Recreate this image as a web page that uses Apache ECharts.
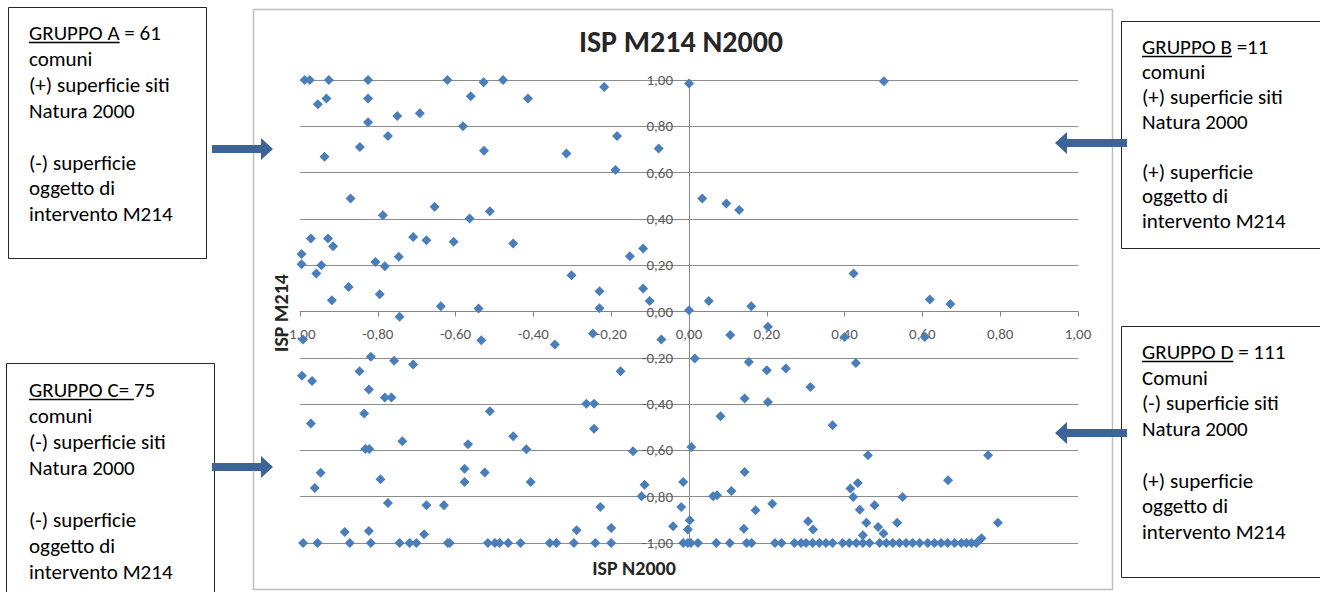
<!DOCTYPE html>
<html>
<head>
<meta charset="utf-8">
<script src="https://cdn.jsdelivr.net/npm/echarts@6/dist/echarts.min.js"></script>
<style>
html,body{margin:0;padding:0;background:#fff;}
#chart{width:1320px;height:592px;}
</style>
</head>
<body>
<div id="chart"></div>
<script>
// ---- Data (ISP N2000 = x, ISP M214 = y) ----
const groupA_N2000 = [-0.988,-0.975,-0.926,-0.825,-0.621,-0.528,-0.478,-0.218,-0.954,-0.932,-0.825,-0.561,-0.414,-0.75,-0.692,-0.825,-0.581,-0.774,-0.846,-0.937,-0.527,-0.315,-0.185,-0.189,-0.078,-0.87,-0.787,-0.654,-0.564,-0.512,-0.972,-0.928,-0.915,-0.709,-0.675,-0.605,-0.452,-0.996,-0.996,-0.945,-0.958,-0.806,-0.782,-0.746,-0.152,-0.118,-0.302,-0.875,-0.795,-0.918,-0.23,-0.118,-0.101,-0.638,-0.541,-0.23];
const groupA_M214  = [1.00,1.00,1.00,1.00,1.00,0.99,1.00,0.97,0.895,0.92,0.92,0.93,0.92,0.845,0.856,0.817,0.80,0.758,0.711,0.668,0.694,0.683,0.758,0.611,0.704,0.488,0.416,0.452,0.402,0.433,0.315,0.315,0.282,0.322,0.308,0.301,0.294,0.248,0.204,0.20,0.164,0.214,0.196,0.236,0.239,0.272,0.157,0.106,0.075,0.049,0.088,0.099,0.045,0.023,0.013,0.014];

const groupB_N2000 = [0.0,0.501,0.034,0.096,0.129,0.423,0.051,0.16,0.619,0.672,0.0];
const groupB_M214  = [0.985,0.995,0.488,0.467,0.438,0.164,0.045,0.023,0.052,0.032,0.005];

const groupC_N2000 = [-0.744,-0.992,-0.534,-0.345,-0.247,-0.071,-0.818,-0.758,-0.709,-0.847,-0.176,-0.995,-0.969,-0.823,-0.782,-0.765,-0.512,-0.264,-0.244,-0.835,-0.972,-0.244,-0.452,-0.418,-0.737,-0.568,-0.832,-0.822,-0.144,-0.947,-0.962,-0.793,-0.577,-0.577,-0.525,-0.407,-0.114,-0.122,-0.774,-0.675,-0.63,-0.228,-0.885,-0.823,-0.681,-0.289,-0.20,-0.041,-0.015,-0.02,-0.003,
  -0.992,-0.955,-0.872,-0.818,-0.744,-0.718,-0.701,-0.62,-0.615,-0.517,-0.499,-0.487,-0.465,-0.433,-0.358,-0.341,-0.296,-0.241,-0.20,-0.015,-0.003];
const groupC_M214  = [-0.023,-0.121,-0.124,-0.143,-0.095,-0.121,-0.196,-0.213,-0.229,-0.258,-0.258,-0.277,-0.30,-0.337,-0.372,-0.372,-0.431,-0.399,-0.399,-0.441,-0.484,-0.506,-0.539,-0.595,-0.561,-0.573,-0.594,-0.594,-0.604,-0.697,-0.762,-0.725,-0.679,-0.736,-0.696,-0.736,-0.748,-0.798,-0.827,-0.837,-0.837,-0.844,-0.952,-0.948,-0.962,-0.945,-0.935,-0.928,-0.736,-0.844,-0.942,
  -1,-1,-1,-1,-1,-1,-1,-1,-1,-1,-1,-1,-1,-1,-1,-1,-1,-1,-1,-1,-1];

const groupD_N2000 = [0.203,0.106,0.40,0.606,0.015,0.154,0.20,0.249,0.429,0.312,0.143,0.203,0.081,0.369,0.006,0.46,0.769,0.143,0.666,0.434,0.415,0.062,0.072,0.109,0.422,0.549,0.171,0.214,0.439,0.477,0.002,0.141,0.306,0.319,0.456,0.486,0.535,0.794,0.447,0.50,0.752,
  0.005,0.023,0.07,0.105,0.148,0.161,0.221,0.238,0.271,0.288,0.301,0.318,0.335,0.352,0.369,0.395,0.412,0.43,0.447,0.464,0.49,0.507,0.524,0.541,0.558,0.575,0.593,0.614,0.631,0.648,0.665,0.683,0.70,0.713,0.726,0.739];
const groupD_M214  = [-0.066,-0.102,-0.11,-0.11,-0.203,-0.218,-0.254,-0.246,-0.222,-0.326,-0.376,-0.391,-0.452,-0.491,-0.585,-0.621,-0.621,-0.693,-0.729,-0.741,-0.765,-0.798,-0.794,-0.775,-0.801,-0.801,-0.859,-0.83,-0.856,-0.837,-0.902,-0.938,-0.906,-0.942,-0.913,-0.931,-0.913,-0.913,-0.967,-0.959,-0.98,
  -1,-1,-1,-1,-1,-1,-1,-1,-1,-1,-1,-1,-1,-1,-1,-1,-1,-1,-1,-1,-1,-1,-1,-1,-1,-1,-1,-1,-1,-1,-1,-1,-1,-1,-1,-1];

const chartTitle = 'ISP M214 N2000';
const xTitle = 'ISP N2000';
const yTitle = 'ISP M214';

// annotation boxes text
const boxA_lines = ['GRUPPO A = 61','comuni','(+) superficie siti','Natura 2000','','(-) superficie','oggetto di','intervento M214'];
const boxB_lines = ['GRUPPO B =11','comuni','(+) superficie siti','Natura 2000','','(+) superficie','oggetto di','intervento M214'];
const boxC_lines = ['GRUPPO C= 75','comuni','(-) superficie siti','Natura 2000','','(-) superficie','oggetto di','intervento M214'];
const boxD_lines = ['GRUPPO D = 111','Comuni','(-) superficie siti','Natura 2000','','(+) superficie','oggetto di','intervento M214'];
const underlined = ['GRUPPO A','GRUPPO B','GRUPPO C= ','GRUPPO D'];

// ---- build ----
function pairs(xs, ys){ return xs.map((v,i)=>[v, ys[i]]); }
const points = [].concat(
  pairs(groupA_N2000, groupA_M214),
  pairs(groupB_N2000, groupB_M214),
  pairs(groupC_N2000, groupC_M214),
  pairs(groupD_N2000, groupD_M214)
);

const FONT = 'Carlito, Lato, sans-serif';
const BOX_FONT_SIZE = 21;
const measureCtx = document.createElement('canvas').getContext('2d');
function textW(s){ measureCtx.font = BOX_FONT_SIZE + 'px ' + FONT; return measureCtx.measureText(s).width; }

function box(rect, lines, textX, firstY, lh, ul){
  const els = [];
  els.push({type:'rect', shape:{x:rect[0]+0.5, y:rect[1]+0.5, width:rect[2], height:rect[3]},
            style:{fill:'#fff', stroke:'#262626', lineWidth:1}, z:10});
  lines.forEach((t,i)=>{
    if(!t) return;
    els.push({type:'text', x:textX, y:firstY + i*lh, z:11,
      style:{text:t, fill:'#000', font: BOX_FONT_SIZE+'px '+FONT, textAlign:'left', textVerticalAlign:'middle'}});
  });
  const w = textW(ul);
  const uy = Math.round(firstY + 9) + 0.5;
  els.push({type:'line', z:11, shape:{x1:textX, y1:uy, x2:textX+w, y2:uy}, style:{stroke:'#000', lineWidth:1.3}});
  return els;
}

function arrow(x0, x1, y, dir){
  // dir 1 = pointing right (tip at x1), -1 = pointing left (tip at x0)
  const hl = 12, hh = 11, sh = 4;
  let pts;
  if(dir > 0){
    pts = [[x0,y-sh],[x1-hl,y-sh],[x1-hl,y-hh],[x1,y],[x1-hl,y+hh],[x1-hl,y+sh],[x0,y+sh]];
  } else {
    pts = [[x1,y-sh],[x0+hl,y-sh],[x0+hl,y-hh],[x0,y],[x0+hl,y+hh],[x0+hl,y+sh],[x1,y+sh]];
  }
  return {type:'polygon', z:12, shape:{points:pts}, style:{fill:'#3C6496'}};
}

const fmt = v => (Math.abs(v) < 1e-9 ? 0 : v).toFixed(2).replace('.', ',');

// grid geometry
const GRID = {left:300, right:242, top:80, bottom:49};
const GRID_W = 1320 - GRID.left - GRID.right;
const GRID_H = 592 - GRID.top - GRID.bottom;

const graphics = [].concat(
  [{type:'rect', z:-5, silent:true, shape:{x:253.5, y:9.5, width:859, height:580}, style:{fill:'none', stroke:'#BFBFBF', lineWidth:1.5}}],
  box([8,7,198,251], boxA_lines, 29, 33, 25.9, underlined[0]),
  box([1121,21,215,227], boxB_lines, 1142, 47, 24.9, underlined[1]),
  box([6,363,208,240], boxC_lines, 29, 390, 26, underlined[2]),
  box([1121,326,215,251], boxD_lines, 1142, 352, 25.7, underlined[3]),
  [arrow(212, 273, 149, 1), arrow(212, 273, 467, 1), arrow(1055, 1127, 143, -1), arrow(1055, 1127, 433, -1)],
  [{type:'text', x:681, y:41, z:5, style:{text:chartTitle, fill:'#262626', font:'bold 30px '+FONT, textAlign:'center', textVerticalAlign:'middle'}},
   {type:'text', x:634, y:568, z:5, style:{text:xTitle, fill:'#262626', font:'bold 20px '+FONT, textAlign:'center', textVerticalAlign:'middle'}},
   {type:'text', x:281, y:313, rotation:Math.PI/2, z:5, style:{text:yTitle, fill:'#262626', font:'bold 20px '+FONT, textAlign:'center', textVerticalAlign:'middle'}}]
);

const chart = echarts.init(document.getElementById('chart'), null, {renderer:'svg'});
chart.setOption({
  animation:false,
  backgroundColor:'#fff',
  grid:{left:GRID.left, right:GRID.right, top:GRID.top, bottom:GRID.bottom, containLabel:false},
  xAxis:{type:'value', min:-1, max:1, interval:0.2, position:'bottom', offset:-GRID_H/2,
    axisLine:{show:true, onZero:false, lineStyle:{color:'#868686', width:1}},
    axisTick:{show:true, length:5, lineStyle:{color:'#868686'}},
    axisLabel:{formatter:fmt, margin:15, fontFamily:FONT, fontSize:15, color:'#595959'},
    splitLine:{show:false}},
  yAxis:{type:'value', min:-1, max:1, interval:0.2, position:'left', offset:-GRID_W/2,
    axisLine:{show:true, onZero:false, lineStyle:{color:'#868686', width:1}},
    axisTick:{show:true, length:5, lineStyle:{color:'#868686'}},
    axisLabel:{formatter:fmt, margin:16, fontFamily:FONT, fontSize:15, color:'#595959'},
    splitLine:{show:true, lineStyle:{color:'#8C8C8C', width:1}}},
  series:[{type:'scatter', data:points, symbol:'diamond', symbolSize:10, z:3,
    itemStyle:{color:'#4A7EBB', opacity:1}}],
  graphic:{elements:graphics}
});
</script>
</body>
</html>
